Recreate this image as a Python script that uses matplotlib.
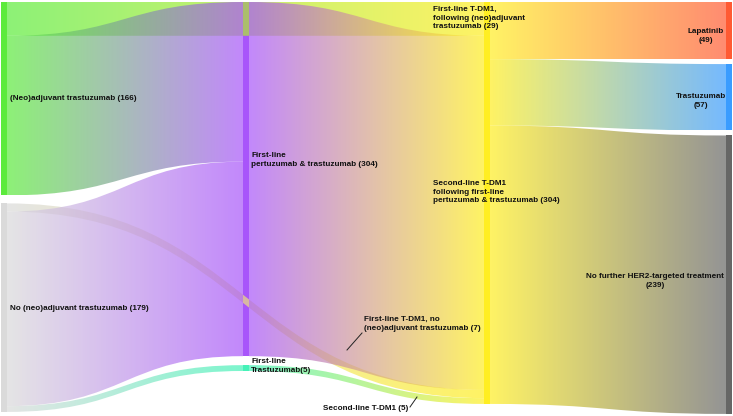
import numpy as np
import matplotlib.pyplot as plt
from matplotlib.path import Path
from matplotlib.patches import PathPatch, Rectangle
from matplotlib.colors import to_rgb

# nodes (column by column, top to bottom)
node_labels = [
    "(Neo)adjuvant trastuzumab (166)",
    "No (neo)adjuvant trastuzumab (179)",
    "First-line\npertuzumab & trastuzumab (304)",
    "First-line\nTrastuzumab(5)",
    "First-line T-DM1,\nfollowing (neo)adjuvant\ntrastuzumab (29)",
    "Second-line T-DM1\nfollowing first-line\npertuzumab & trastuzumab (304)",
    "First-line T-DM1, no\n(neo)adjuvant trastuzumab (7)",
    "Second-line T-DM1 (5)",
    "Lapatinib\n(49)",
    "Trastuzumab\n(57)",
    "No further HER2-targeted treatment\n(239)",
]
node_column = [0, 0, 1, 1, 2, 2, 2, 2, 3, 3, 3]
node_colors = ["#5CEB3C", "#DADADA", "#A855FA", "#45F2B8", "#FFEE22", "#FFEE22",
               "#FFEE22", "#FFEE22", "#FF5A33", "#3A9CFF", "#666666"]

# links (order = stacking order at each node)
link_source = [0, 0, 1, 1, 1, 2, 3, 4, 5, 5, 5, 6, 7]
link_target = [4, 2, 6, 2, 3, 5, 7, 8, 8, 9, 10, 10, 10]
link_value = [29, 137, 7, 167, 5, 304, 5, 29, 20, 57, 227, 7, 5]

# layout (pixels)
W, H = 733, 416
col_x = [1, 243, 484, 726]
node_w = 6
col_gap = [8, 9, 0, 5]
k = 1.165
top = 2
link_alpha = 0.7

n = len(node_labels)
val_in = np.zeros(n)
val_out = np.zeros(n)
for s, t, v in zip(link_source, link_target, link_value):
    val_out[s] += v
    val_in[t] += v
node_val = np.maximum(val_in, val_out)

node_y = np.zeros(n)
cursor = {c: top for c in range(4)}
for i in range(n):
    c = node_column[i]
    node_y[i] = cursor[c]
    cursor[c] += node_val[i] * k + col_gap[c]

# link geometry; bands touching at both ends with the same colours are merged
bands = []
out_cur = node_y.copy()
in_cur = node_y.copy()
for s, t, v in zip(link_source, link_target, link_value):
    h = v * k
    ys, yt = out_cur[s], in_cur[t]
    out_cur[s] += h
    in_cur[t] += h
    x0 = col_x[node_column[s]] + node_w
    x1 = col_x[node_column[t]]
    c0, c1 = node_colors[s], node_colors[t]
    if bands:
        b = bands[-1]
        if (b["x0"] == x0 and b["x1"] == x1 and b["c0"] == c0 and b["c1"] == c1
                and abs(b["ys"] + b["h"] - ys) < 1e-6 and abs(b["yt"] + b["h"] - yt) < 1e-6):
            b["h"] += h
            continue
    bands.append(dict(x0=x0, x1=x1, ys=ys, yt=yt, h=h, c0=c0, c1=c1))

fig = plt.figure(figsize=(W / 100, H / 100), dpi=100)
ax = fig.add_axes([0, 0, 1, 1])
ax.set_axis_off()

for i in range(n):
    ax.add_patch(Rectangle((col_x[node_column[i]], node_y[i]), node_w, node_val[i] * k,
                           facecolor=node_colors[i], edgecolor="none", zorder=1))

for b in bands:
    x0, x1, ys, yt, h = b["x0"], b["x1"], b["ys"], b["yt"], b["h"]
    xm = (x0 + x1) / 2
    verts = [(x0, ys), (xm, ys), (xm, yt), (x1, yt),
             (x1, yt + h), (xm, yt + h), (xm, ys + h), (x0, ys + h), (x0, ys)]
    codes = [Path.MOVETO, Path.CURVE4, Path.CURVE4, Path.CURVE4,
             Path.LINETO, Path.CURVE4, Path.CURVE4, Path.CURVE4, Path.CLOSEPOLY]
    patch = PathPatch(Path(verts, codes), facecolor="none", edgecolor="none")
    ax.add_patch(patch)
    c0, c1 = np.array(to_rgb(b["c0"])), np.array(to_rgb(b["c1"]))
    f = np.linspace(0, 1, 256)[:, None]
    img = np.ones((1, 256, 4))
    img[0, :, :3] = c0 * (1 - f) + c1 * f
    img[0, :, 3] = link_alpha
    im = ax.imshow(img, extent=(x0, x1, max(ys, yt) + h, min(ys, yt)),
                   aspect="auto", interpolation="bilinear", zorder=2)
    im.set_clip_path(patch)

ax.set_xlim(0, W)
ax.set_ylim(H, 0)

# labels: (x, y, ha)
label_pos = [
    (10, 99, "left"),
    (10, 309, "left"),
    (251, 160, "left"),
    (251, 366, "left"),
    (433, 18, "left"),
    (433, 192, "left"),
    (364, 324, "left"),
    (323, 409, "left"),
    (724, 36, "right"),
    (726, 101, "right"),
    (724, 281, "right"),
]
for lab, (x, y, ha) in zip(node_labels, label_pos):
    ax.text(x, y, lab, ha=ha, va="center", multialignment="center" if ha == "right" else "left",
            fontsize=5.9, fontweight="bold", family="Liberation Sans", color="#111111",
            linespacing=1.3, zorder=5)

# leader lines
ax.plot([347, 362], [350, 333], color="#222222", lw=0.7, zorder=4)
ax.plot([410, 417], [407, 397], color="#222222", lw=0.7, zorder=4)

fig.savefig("out.png", dpi=100)
